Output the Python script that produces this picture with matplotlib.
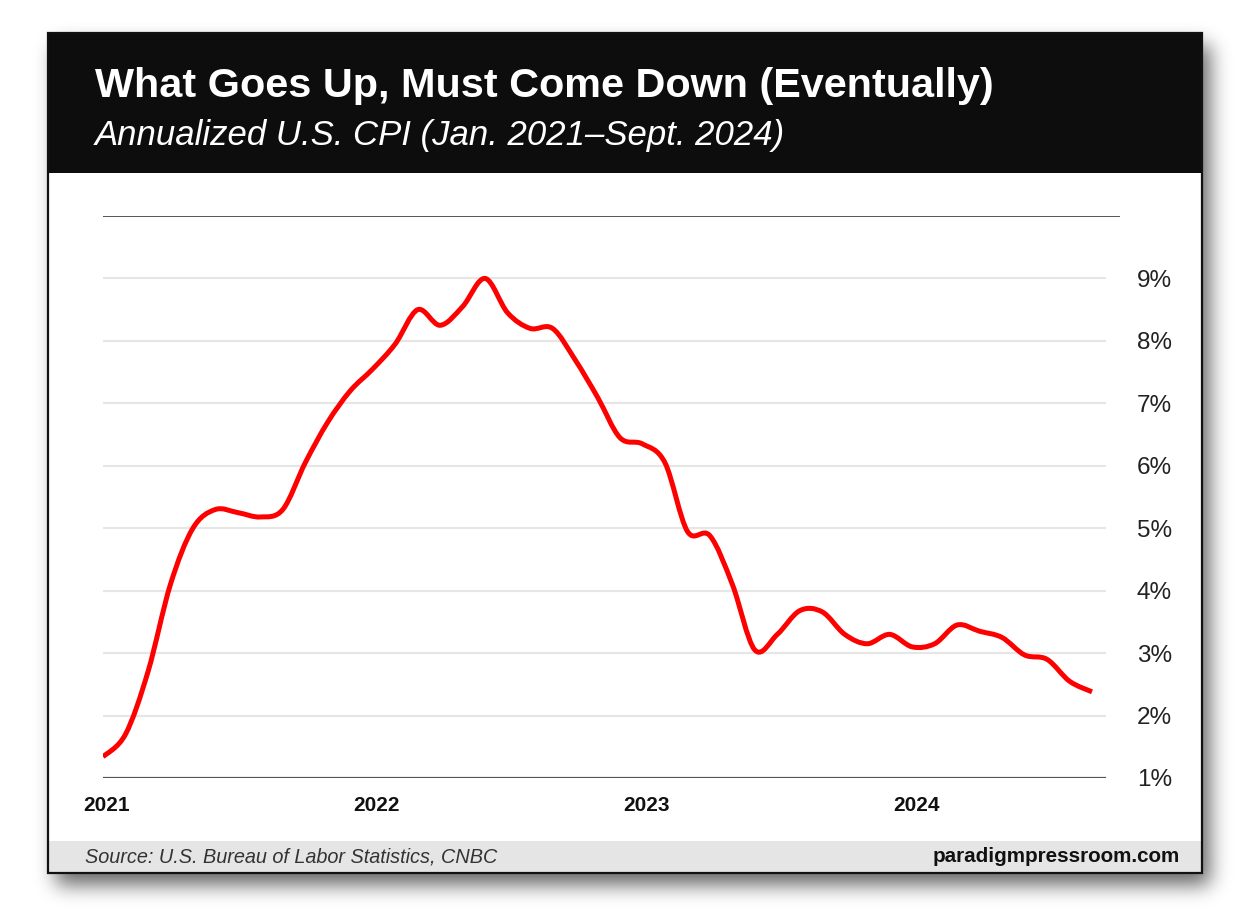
import numpy as np
import matplotlib
matplotlib.use('Agg')
import matplotlib.pyplot as plt
from matplotlib.patches import Rectangle, PathPatch
from matplotlib.path import Path
from matplotlib.transforms import ScaledTranslation

# monthly CPI, Jan 2021 - Sep 2024
cpi_2021 = [1.34, 1.7, 2.7, 4.1, 5.0, 5.3, 5.25, 5.18, 5.3, 6.05, 6.7, 7.2]
cpi_2022 = [7.55, 7.95, 8.5, 8.25, 8.55, 9.0, 8.45, 8.2, 8.2, 7.7, 7.1, 6.45]
cpi_2023 = [6.35, 6.05, 4.95, 4.88, 4.1, 3.05, 3.3, 3.68, 3.66, 3.3, 3.15, 3.3]
cpi_2024 = [3.1, 3.15, 3.45, 3.35, 3.25, 2.97, 2.9, 2.55, 2.38]
cpi = np.array(cpi_2021 + cpi_2022 + cpi_2023 + cpi_2024)
months = np.arange(len(cpi))

year_labels = ['2021', '2022', '2023', '2024']
year_ticks = [0, 12, 24, 36]
pct_ticks = [1, 2, 3, 4, 5, 6, 7, 8, 9]

W, H = 1235, 917
plt.rcParams['font.family'] = ['Liberation Sans', 'DejaVu Sans']

fig = plt.figure(figsize=(W / 100, H / 100), dpi=100)
fig.patch.set_facecolor('white')

# background axes in pixel coordinates
bg = fig.add_axes([0, 0, 1, 1])
bg.set_xlim(0, W)
bg.set_ylim(H, 0)
bg.axis('off')

# card box
cx0, cy0, cx1, cy1 = 48, 33, 1202, 873

# soft drop shadow
mask = np.zeros((H, W))
mask[cy0 + 12:cy1 + 12, cx0 + 8:cx1 + 8] = 1.0
k = np.arange(-30, 31)
kern = np.exp(-k ** 2 / (2 * 10.0 ** 2))
kern /= kern.sum()
mask = np.apply_along_axis(lambda r: np.convolve(r, kern, mode='same'), 1, mask)
mask = np.apply_along_axis(lambda c: np.convolve(c, kern, mode='same'), 0, mask)
shadow = np.zeros((H, W, 4))
shadow[..., 3] = mask * 0.6
bg.imshow(shadow, extent=(0, W, H, 0), zorder=0, interpolation='bilinear')

bg.add_patch(Rectangle((cx0, cy0), cx1 - cx0, cy1 - cy0, facecolor='white',
                       edgecolor='none', zorder=1))
bg.add_patch(Rectangle((cx0, cy0), cx1 - cx0, 140, facecolor='#0d0d0d',
                       edgecolor='none', zorder=2))
bg.add_patch(Rectangle((cx0, 841), cx1 - cx0, cy1 - 841, facecolor='#e5e5e5',
                       edgecolor='none', zorder=2))
bg.add_patch(Rectangle((cx0, cy0), cx1 - cx0, cy1 - cy0, facecolor='none',
                       edgecolor='#111111', linewidth=1.6, zorder=3))

bg.text(95, 97, 'What Goes Up, Must Come Down (Eventually)', color='white',
        fontsize=29.8, fontweight='bold', va='baseline', ha='left', zorder=4)
bg.text(95, 145, 'Annualized U.S. CPI (Jan. 2021\u2013Sept. 2024)', color='white',
        fontsize=25, fontstyle='italic', va='baseline', ha='left', zorder=4)
bg.text(85, 857, 'Source: U.S. Bureau of Labor Statistics, CNBC', color='#333333',
        fontsize=14.3, fontstyle='italic', va='center', ha='left', zorder=4)
bg.text(1180, 857, 'paradigmpressroom.com', color='#111111',
        fontsize=14.9, fontweight='bold', va='center', ha='right', zorder=4)

# chart axes
ax_l, ax_r, ax_t, ax_b = 103, 1120, 216, 778
ax = fig.add_axes([ax_l / W, 1 - ax_b / H, (ax_r - ax_l) / W, (ax_b - ax_t) / H])
ax.patch.set_alpha(0)
px_per_month = (1092 - 103) / 44
x_lo = -(103 - ax_l) / px_per_month
x_hi = (ax_r - 103) / px_per_month
ax.set_xlim(x_lo, x_hi)
ax.set_ylim(1, 10)
for s in ax.spines.values():
    s.set_visible(False)

f_grid1 = (1105 - ax_l) / (ax_r - ax_l)
for v in pct_ticks[1:]:
    ax.axhline(v, 0, f_grid1, color='#e6e6e6', linewidth=1.5, zorder=1)
ax.axhline(10, 0, 1, color='#555555', linewidth=1.4, zorder=1)
ax.axhline(1, 0, f_grid1, color='#555555', linewidth=1.6, zorder=1)

# smooth curve through the monthly points (Catmull-Rom as cubic Beziers)
pts = np.column_stack([months, cpi]).astype(float)
ext = np.vstack([pts[0], pts, pts[-1]])
verts = [tuple(pts[0])]
codes = [Path.MOVETO]
for i in range(len(pts) - 1):
    p0, p1, p2, p3 = ext[i], ext[i + 1], ext[i + 2], ext[i + 3]
    c1 = p1 + (p2 - p0) / 6
    c2 = p2 - (p3 - p1) / 6
    verts += [tuple(c1), tuple(c2), tuple(p2)]
    codes += [Path.CURVE4] * 3
ax.add_patch(PathPatch(Path(verts, codes), facecolor='none', edgecolor='#ff0000',
                       linewidth=3.6, capstyle='butt', joinstyle='round', zorder=3))

ax.yaxis.tick_right()
ax.set_yticks(pct_ticks)
ax.set_yticklabels([f'{v}%' for v in pct_ticks], fontsize=17.5, color='#222222')
ax.tick_params(axis='y', length=0, pad=12)
ax.set_xticks(year_ticks)
ax.set_xticklabels(year_labels, fontsize=15, fontweight='bold', color='#111111')
ax.tick_params(axis='x', length=0, pad=13)
shift = ScaledTranslation(4 / 100, 0, fig.dpi_scale_trans)
for lab in ax.get_xticklabels():
    lab.set_transform(lab.get_transform() + shift)

fig.savefig('out.png', dpi=100, facecolor='white')
